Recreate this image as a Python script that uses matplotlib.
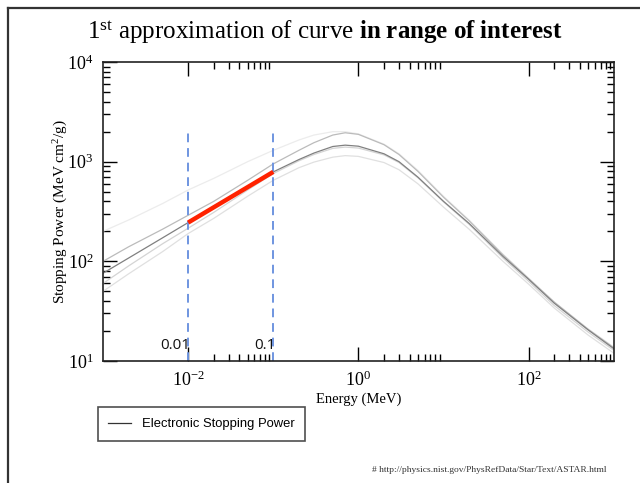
import numpy as np
import matplotlib
matplotlib.use('Agg')
import matplotlib.pyplot as plt
from matplotlib.lines import Line2D
from matplotlib.ticker import LogLocator, FixedLocator, NullFormatter

plt.rcParams['font.family'] = 'Liberation Serif'
plt.rcParams['mathtext.fontset'] = 'custom'
plt.rcParams['mathtext.rm'] = 'Liberation Serif'
plt.rcParams['mathtext.it'] = 'Liberation Serif:italic'
plt.rcParams['mathtext.bf'] = 'Liberation Serif:bold'

# energies (MeV) and electronic stopping power curves (MeV cm2/g)
energy = [0.001, 0.002, 0.005, 0.01, 0.02, 0.05, 0.1, 0.2, 0.3, 0.5, 0.7,
          1, 2, 3, 5, 10, 20, 50, 100, 200, 500, 1000]
sp_main = [76, 108, 172, 245, 350, 560, 790, 1050, 1220, 1420, 1465,
           1430, 1200, 1000, 700, 400, 240, 112, 66, 38, 20.5, 13.3]
sp_a = [200, 260, 380, 520, 680, 1000, 1300, 1650, 1850, 2000, 2000,
        1900, 1500, 1200, 820, 450, 260, 118, 68, 39, 21, 13.8]
sp_b = [100, 140, 210, 290, 400, 650, 950, 1300, 1550, 1850, 1950,
        1880, 1480, 1180, 800, 440, 255, 116, 67, 39, 20.8, 13.6]
sp_c = [60, 90, 150, 215, 310, 520, 760, 1020, 1180, 1360, 1400,
        1370, 1170, 980, 690, 395, 235, 108, 63, 36, 19.5, 12.8]
sp_d = [50, 75, 125, 190, 270, 450, 650, 870, 990, 1110, 1150,
        1130, 980, 830, 600, 350, 210, 100, 59, 34, 18.2, 12]

# first approximation segment in range of interest
fit_e = [0.01, 0.1]
fit_sp = [245, 790]
range_marks = [0.01, 0.1]
range_labels = ['0.01', '0.1']
x_major = [1e-2, 1e0, 1e2]

fig = plt.figure(figsize=(6.4, 4.83), dpi=100)
ax = fig.add_axes([0.161, 0.2526, 0.798, 0.619])

ax.plot(energy, sp_a, color='#ececec', lw=0.9)
ax.plot(energy, sp_d, color='#e0e0e0', lw=0.9)
ax.plot(energy, sp_c, color='#d4d4d4', lw=0.9)
ax.plot(energy, sp_b, color='#bbbbbb', lw=0.9)
ax.plot(energy, sp_main, color='#808080', lw=0.9, label='Electronic Stopping Power')

for xm, lab in zip(range_marks, range_labels):
    ax.plot([xm, xm], [10, 2000], color='#6f95e0', lw=1.4, dashes=(4.5, 3))
    ax.text(xm * 1.06, 14.2, lab, ha='right', va='center', fontsize=11,
            family='Open Sans', color='#111111')

ax.plot(fit_e, fit_sp, color='#ff2200', lw=3.2, solid_capstyle='butt')

ax.set_xscale('log')
ax.set_yscale('log')
ax.set_xlim(1e-3, 1e3)
ax.set_ylim(10, 1e4)
ax.xaxis.set_major_locator(FixedLocator(x_major))
ax.xaxis.set_minor_locator(FixedLocator([m * v for v in x_major for m in range(2, 10)]))
ax.xaxis.set_minor_formatter(NullFormatter())
ax.yaxis.set_minor_locator(LogLocator(base=10, subs=np.arange(2, 10)))
ax.yaxis.set_minor_formatter(NullFormatter())
ax.tick_params(which='both', direction='in', top=True, right=True,
               labelsize=13, width=1)
ax.tick_params(which='major', length=10, pad=7)
ax.tick_params(which='minor', length=5)
for s in ax.spines.values():
    s.set_linewidth(1.2)
    s.set_color('#222222')

ax.set_xlabel('Energy (MeV)', fontsize=10.5, labelpad=2)
ax.set_ylabel('Stopping Power (MeV cm$^2$/g)', fontsize=11)
ax.yaxis.set_label_coords(-0.065, 0.5)

fig.text(0.508, 0.934,
         r'1$^{\mathrm{st}}$ approximation of curve $\mathbf{in\ range\ of\ interest}$',
         ha='center', va='center', fontsize=18)

leg = fig.legend(loc='center left', bbox_to_anchor=(91 / 640, 1 - 424 / 483),
                 frameon=True, fancybox=False, borderpad=0.8, handlelength=1.8,
                 prop={'family': 'Liberation Sans', 'size': 9.4})
leg.get_frame().set_edgecolor('#222222')
leg.get_frame().set_linewidth(1.2)
leg.get_lines()[0].set_color('#333333')

fig.text(0.948, 1 - 470 / 483,
         '# http://physics.nist.gov/PhysRefData/Star/Text/ASTAR.html',
         ha='right', va='center', fontsize=6.8, color='#333333')

# slide frame
fig.add_artist(Line2D([8 / 640, 8 / 640], [0, 1 - 8 / 483], color='#333333', lw=1.6))
fig.add_artist(Line2D([8 / 640, 1], [1 - 8 / 483, 1 - 8 / 483], color='#333333', lw=1.6))

fig.savefig('out.png', dpi=100)
